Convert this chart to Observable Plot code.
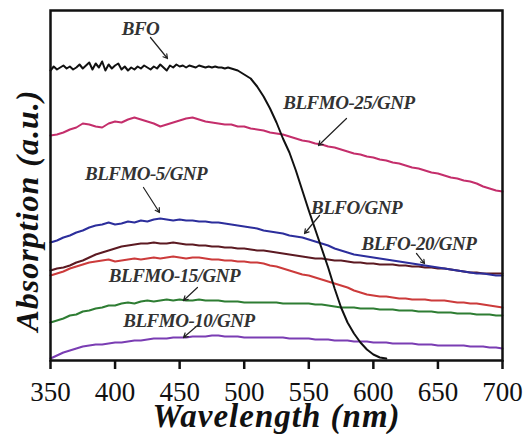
<!DOCTYPE html>
<html>
<head>
<meta charset="utf-8">
<script src="https://cdn.jsdelivr.net/npm/d3@7"></script>
<script src="https://cdn.jsdelivr.net/npm/@observablehq/plot@0.6"></script>
<style>
  body { margin: 0; background: #fff; }
</style>
</head>
<body>
<div id="chart"></div>
<script>
// Sampling grids (nm)
const wavelength = d3.range(350, 701, 5);
const bfoWavelength = [...d3.range(350, 500.1, 2.5), ...d3.range(505, 611, 5)];

// UV-vis absorption spectra (arbitrary units)
const bfo = [
  2.90, 2.94, 2.91, 2.93, 2.95, 2.92, 2.94, 2.91, 2.93, 2.96,
  2.92, 2.95, 2.98, 2.91, 2.97, 2.93, 2.99, 2.90, 2.96, 2.92,
  2.95, 2.97, 2.91, 2.94, 2.90, 2.93, 2.91, 2.94, 2.92, 2.95,
  2.93, 2.91, 2.94, 2.92, 2.96, 2.93, 2.90, 2.95, 2.93, 2.96,
  2.94, 2.95, 2.93, 2.95, 2.94, 2.93, 2.95, 2.94, 2.93, 2.94,
  2.93, 2.94, 2.93, 2.93, 2.92, 2.93, 2.92, 2.91, 2.90, 2.88,
  2.86,
  2.82, 2.74, 2.64, 2.52, 2.38, 2.22, 2.08, 1.90, 1.70, 1.50,
  1.31, 1.12, 0.93, 0.72, 0.53, 0.38, 0.27, 0.18, 0.11, 0.06,
  0.03, 0.02
];
const blfmo25 = [
  2.25, 2.26, 2.28, 2.31, 2.33, 2.37, 2.36, 2.34, 2.33, 2.37,
  2.39, 2.38, 2.41, 2.43, 2.41, 2.39, 2.37, 2.34, 2.36, 2.38,
  2.40, 2.42, 2.43, 2.41, 2.39, 2.38, 2.37, 2.36, 2.36, 2.34,
  2.34, 2.32, 2.31, 2.30, 2.28, 2.27, 2.26, 2.24, 2.22, 2.20,
  2.19, 2.17, 2.16, 2.14, 2.13, 2.11, 2.09, 2.07, 2.06, 2.04,
  2.03, 2.01, 2.00, 1.98, 1.97, 1.95, 1.93, 1.92, 1.90, 1.88,
  1.87, 1.85, 1.83, 1.82, 1.80, 1.79, 1.77, 1.74, 1.72, 1.70,
  1.69
];
const blfmo5 = [
  1.18, 1.20, 1.23, 1.25, 1.28, 1.30, 1.33, 1.35, 1.36, 1.38,
  1.36, 1.37, 1.39, 1.38, 1.40, 1.39, 1.41, 1.42, 1.41, 1.40,
  1.41, 1.40, 1.40, 1.39, 1.39, 1.38, 1.38, 1.37, 1.36, 1.35,
  1.34, 1.33, 1.32, 1.30, 1.29, 1.28, 1.27, 1.25, 1.24, 1.23,
  1.21, 1.19, 1.17, 1.15, 1.12, 1.10, 1.08, 1.06, 1.05, 1.04,
  1.03, 1.02, 1.01, 1.00, 0.99, 0.98, 0.97, 0.96, 0.95, 0.94,
  0.93, 0.92, 0.91, 0.90, 0.89, 0.88, 0.87, 0.87, 0.86, 0.85,
  0.85
];
const blfo20 = [
  0.90, 0.92, 0.93, 0.95, 0.98, 1.00, 1.03, 1.06, 1.08, 1.10,
  1.12, 1.14, 1.15, 1.16, 1.17, 1.17, 1.18, 1.17, 1.17, 1.18,
  1.17, 1.16, 1.16, 1.15, 1.15, 1.14, 1.14, 1.13, 1.13, 1.12,
  1.12, 1.11, 1.10, 1.10, 1.09, 1.08, 1.07, 1.06, 1.05, 1.04,
  1.03, 1.02, 1.02, 1.01, 1.00, 1.00, 0.99, 0.98, 0.98, 0.97,
  0.97, 0.96, 0.96, 0.96, 0.95, 0.95, 0.94, 0.94, 0.93, 0.93,
  0.92, 0.92, 0.91, 0.90, 0.89, 0.88, 0.88, 0.87, 0.87, 0.87,
  0.87
];
const blfo = [
  0.85, 0.87, 0.89, 0.92, 0.94, 0.96, 0.98, 0.99, 1.00, 1.01,
  0.99, 1.00, 1.01, 1.02, 1.01, 1.02, 1.03, 1.02, 1.03, 1.04,
  1.03, 1.02, 1.03, 1.03, 1.02, 1.01, 1.01, 1.00, 1.00, 0.99,
  0.99, 0.98, 0.98, 0.97, 0.95, 0.94, 0.92, 0.90, 0.88, 0.86,
  0.85, 0.83, 0.81, 0.79, 0.77, 0.75, 0.73, 0.70, 0.68, 0.66,
  0.65, 0.64, 0.64, 0.63, 0.62, 0.62, 0.61, 0.61, 0.61, 0.60,
  0.60, 0.60, 0.59, 0.58, 0.58, 0.57, 0.57, 0.56, 0.55, 0.54,
  0.53
];
const blfmo15 = [
  0.38, 0.40, 0.42, 0.45, 0.46, 0.49, 0.50, 0.52, 0.53, 0.55,
  0.55, 0.57, 0.58, 0.57, 0.59, 0.60, 0.59, 0.60, 0.61, 0.60,
  0.61, 0.60, 0.60, 0.61, 0.60, 0.60, 0.60, 0.59, 0.59, 0.59,
  0.58, 0.58, 0.58, 0.58, 0.58, 0.58, 0.57, 0.57, 0.57, 0.57,
  0.57, 0.56, 0.56, 0.55, 0.54, 0.53, 0.53, 0.53, 0.52, 0.52,
  0.52, 0.51, 0.51, 0.51, 0.50, 0.50, 0.50, 0.49, 0.49, 0.49,
  0.48, 0.48, 0.48, 0.47, 0.47, 0.47, 0.46, 0.46, 0.46, 0.45,
  0.45
];
const blfmo10 = [
  0.02, 0.05, 0.08, 0.10, 0.12, 0.14, 0.15, 0.16, 0.16, 0.17,
  0.18, 0.18, 0.19, 0.20, 0.20, 0.21, 0.22, 0.22, 0.22, 0.23,
  0.23, 0.23, 0.24, 0.24, 0.24, 0.25, 0.25, 0.24, 0.24, 0.24,
  0.23, 0.23, 0.23, 0.23, 0.23, 0.23, 0.23, 0.22, 0.22, 0.22,
  0.22, 0.21, 0.21, 0.21, 0.20, 0.20, 0.20, 0.19, 0.19, 0.19,
  0.18, 0.18, 0.18, 0.17, 0.17, 0.17, 0.17, 0.16, 0.16, 0.16,
  0.15, 0.15, 0.15, 0.15, 0.15, 0.14, 0.14, 0.14, 0.13, 0.13,
  0.12
];

// Curve styling, drawn back to front
const series = [
  { name: "BLFMO-10/GNP", color: "#7a3db3", xs: wavelength, ys: blfmo10 },
  { name: "BLFMO-15/GNP", color: "#2e7d33", xs: wavelength, ys: blfmo15 },
  { name: "BLFO/GNP-red", color: "#cc3b3b", xs: wavelength, ys: blfo },
  { name: "BLFO-20/GNP", color: "#5c1a22", xs: wavelength, ys: blfo20 },
  { name: "BLFMO-5/GNP", color: "#2c2e9c", xs: wavelength, ys: blfmo5 },
  { name: "BLFMO-25/GNP", color: "#c42e6b", xs: wavelength, ys: blfmo25 },
  { name: "BFO", color: "#111111", xs: bfoWavelength, ys: bfo }
];
const rows = series.flatMap(s => s.xs.map((x, i) => ({ name: s.name, color: s.color, x, y: s.ys[i] })));

// Curve annotations: label position and arrow from label to curve
const labelText = ["BFO", "BLFMO-25/GNP", "BLFMO-5/GNP", "BLFO/GNP", "BLFO-20/GNP", "BLFMO-15/GNP", "BLFMO-10/GNP"];
const labelX    = [419.7, 581.1, 424.0, 587.0, 635.3, 446.0, 457.2];
const labelY    = [3.32, 2.58, 1.87, 1.53, 1.17, 0.85, 0.40];
const arrowX1   = [427.4, 579.2, 422.0, 558.3, 633.4, 463.8, 463.8];
const arrowY1   = [3.23, 2.42, 1.73, 1.45, 1.07, 0.73, 0.35];
const arrowX2   = [440.6, 557.5, 434.4, 546.7, 639.6, 453.0, 453.0];
const arrowY2   = [3.02, 2.15, 1.48, 1.27, 0.97, 0.60, 0.23];
const labels = labelText.map((t, i) => ({ t, x: labelX[i], y: labelY[i], x1: arrowX1[i], y1: arrowY1[i], x2: arrowX2[i], y2: arrowY2[i] }));

const xTicks = [350, 400, 450, 500, 550, 600, 650, 700];

const xTitle = "Wavelength (nm)";
const yTitle = "Absorption (a.u.)";

const serif = "'Liberation Serif', 'Times New Roman', serif";

const chart = Plot.plot({
  width: 525,
  height: 434,
  marginLeft: 50,
  marginRight: 23,
  marginTop: 10,
  marginBottom: 74,
  style: { background: "#fff", overflow: "visible" },
  x: { domain: [350, 700] },
  y: { domain: [0, 3.5], axis: null },
  marks: [
    Plot.line(rows, { x: "x", y: "y", z: "name", stroke: "color", strokeWidth: 2, curve: "linear" }),
    Plot.arrow(labels, { x1: "x1", y1: "y1", x2: "x2", y2: "y2", stroke: "#222", strokeWidth: 1.2, headLength: 6 }),
    Plot.text(labels, {
      x: "x", y: "y", text: "t", fill: "#333",
      fontFamily: serif, fontStyle: "italic", fontWeight: "bold", fontSize: 19
    }),
    Plot.frame({ stroke: "#111", strokeWidth: 2.5 }),
    Plot.axisX({
      ticks: xTicks, tickFormat: d => String(d), tickSize: 9, tickPadding: 12,
      strokeWidth: 2.5, stroke: "#111", fill: "#111",
      fontSize: 27, fontFamily: serif, label: null
    }),
    Plot.text([xTitle], {
      frameAnchor: "bottom", lineAnchor: "bottom", textAnchor: "middle", dy: 66, fill: "#111",
      fontFamily: serif, fontStyle: "italic", fontWeight: "bold", fontSize: 33
    }),
    Plot.text([yTitle], {
      frameAnchor: "left", textAnchor: "middle", lineAnchor: "middle", rotate: -90, dx: -23, dy: 25, fill: "#111",
      fontFamily: serif, fontStyle: "italic", fontWeight: "bold", fontSize: 32
    })
  ]
});

// Tighten or loosen the tracking of the serif labels
const svg = d3.select(chart);
svg.selectAll("text").each(function () {
  const t = this.textContent;
  if (t === xTitle) this.setAttribute("letter-spacing", "1");
  else if (t === yTitle) this.setAttribute("letter-spacing", "1");
  else if (labelText.includes(t)) this.setAttribute("letter-spacing", "-0.5");
});

document.getElementById("chart").appendChild(chart);
</script>
</body>
</html>
